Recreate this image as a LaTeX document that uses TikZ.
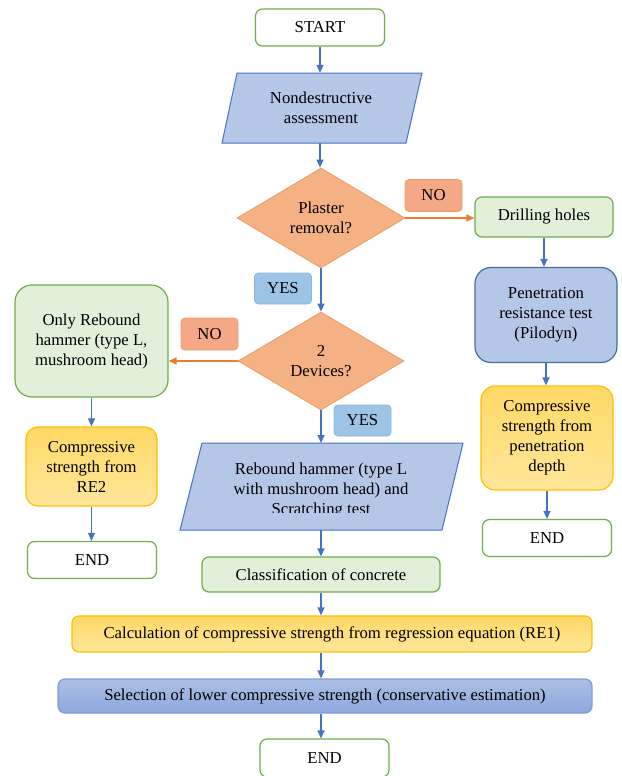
\documentclass[tikz,border=0pt]{standalone}
\usepackage{fontspec}
\setmainfont{Liberation Serif}
\usetikzlibrary{shapes.geometric,arrows.meta}
\definecolor{gborder}{HTML}{70AD47}
\definecolor{gfill}{HTML}{E2F0D9}
\definecolor{bfill}{HTML}{B4C7E7}
\definecolor{bborder}{HTML}{4472C4}
\definecolor{pborder}{HTML}{41719C}
\definecolor{ofill}{HTML}{F4B183}
\definecolor{oborder}{HTML}{F09A66}
\definecolor{oarrow}{HTML}{ED7D31}
\definecolor{yfillA}{HTML}{FFD966}
\definecolor{yfillB}{HTML}{FFE699}
\definecolor{yborder}{HTML}{FFC000}
\definecolor{yesfill}{HTML}{9DC3E6}
\definecolor{yesborder}{HTML}{8AB4E0}
\definecolor{nofill}{HTML}{F4A886}
\definecolor{selA}{HTML}{ABBFE6}
\definecolor{selB}{HTML}{8EA8DD}
\definecolor{selborder}{HTML}{7F9CD8}
\definecolor{arrowblue}{HTML}{4472C4}
\begin{document}
\begin{tikzpicture}[x=1pt,y=-1pt,
  font=\fontsize{16.7}{20}\selectfont,
  box/.style={draw, line width=1.2pt, align=center, inner sep=0pt, rounded corners=7pt},
  greenbox/.style={box, draw=gborder, fill=gfill},
  endbox/.style={box, draw=gborder, fill=white, minimum width=129pt, minimum height=37pt},
  yellowbox/.style={box, draw=yborder, top color=yfillA, bottom color=yfillB, rounded corners=14pt},
  tagyes/.style={box, draw=yesborder, fill=yesfill, line width=0.8pt, rounded corners=4pt, minimum width=57pt, minimum height=31pt},
  tagno/.style={box, draw=oborder, fill=nofill, line width=0.8pt, rounded corners=4pt, minimum width=57pt, minimum height=32pt},
  decision/.style={diamond, draw=oborder, fill=ofill, line width=0.8pt, inner sep=0pt, align=center},
  para/.style={draw=bborder, fill=bfill, line width=1pt},
  flow/.style={draw=arrowblue, line width=1.2pt, -{Triangle[length=8pt,width=7pt]}},
  oflow/.style={draw=oarrow, line width=1.2pt, -{Triangle[length=8pt,width=7pt]}}
]
\useasboundingbox (0,0) rectangle (621,776);

% main column
\node[endbox] (start) at (320,27.5) {START};
\path[para] (237,73) -- (422,73) -- (406,143) -- (222,143) -- cycle;
\node[align=center, minimum width=150pt, minimum height=70pt, inner sep=0pt] (nd) at (321,108) {Nondestructive\\assessment};
\node[decision, minimum width=168pt, minimum height=100pt] (d1) at (321,218) {Plaster\\removal?};
\node[tagno] (no1) at (433.5,195.5) {NO};
\node[tagyes] (yes1) at (283,288.5) {YES};
\node[decision, minimum width=166pt, minimum height=98pt] (d2) at (321,361) {2\\Devices?};
\node[tagno] (no2) at (209.5,334) {NO};
\node[tagyes] (yes2) at (362.5,420.5) {YES};
\path[para] (202,443) -- (463,443) -- (442,530) -- (180,530) -- cycle;
\coordinate (rhtop) at (321,443);
\coordinate (rhbot) at (321,530);
\begin{scope}
\clip (170,440) rectangle (470,512);
\node[align=center, inner sep=0pt] (rh) at (321,490.5) {Rebound hammer (type L\\with mushroom head) and\\Scratching test};
\end{scope}
\node[greenbox, minimum width=238pt, minimum height=35pt] (class) at (321,574.5) {Classification of concrete};
\node[box, draw=yborder, top color=yfillA, bottom color=yfillB, minimum width=520pt, minimum height=36pt] (calc) at (332,634) {Calculation of compressive strength from regression equation (RE1)};
\node[box, draw=selborder, top color=selA, bottom color=selB, minimum width=534pt, minimum height=34pt] (sel) at (325,696) {Selection of lower compressive strength (conservative estimation)};
\node[endbox, minimum height=38pt] (end3) at (324.5,758) {END};

% right column
\node[greenbox, minimum width=138pt, minimum height=40pt] (drill) at (544,217) {Drilling holes};
\node[box, draw=pborder, fill=bfill, rounded corners=16pt, minimum width=142pt, minimum height=95pt] (pen) at (546,315) {Penetration\\resistance test\\(Pilodyn)};
\node[yellowbox, minimum width=132pt, minimum height=104pt] (comp) at (547,438) {Compressive\\strength from\\penetration\\depth};
\node[endbox] (end1) at (547,538) {END};

% left column
\node[greenbox, rounded corners=17pt, minimum width=153pt, minimum height=112pt] (only) at (91.5,341) {Only Rebound\\hammer (type L,\\mushroom head)};
\node[yellowbox, rounded corners=12pt, minimum width=131pt, minimum height=79pt] (re2) at (91.5,466.5) {Compressive\\strength from\\RE2};
\node[endbox] (end2) at (92,560) {END};

% connectors
\draw[flow] (start.south) -- (start.south |- nd.north);
\draw[flow] (start.south |- nd.south) -- (start.south |- d1.north);
\draw[oflow] (d1.east) -- (d1.east -| drill.west);
\draw[flow] (d1.south) -- (d2.north);
\draw[flow] (drill.south) -- (drill.south |- pen.north);
\draw[flow] (pen.south) -- (pen.south |- comp.north);
\draw[flow] (comp.south) -- (comp.south |- end1.north);
\draw[oflow] (d2.west) -- (d2.west -| only.east);
\draw[flow] (only.south) -- (only.south |- re2.north);
\draw[flow] (re2.south) -- (re2.south |- end2.north);
\draw[flow] (d2.south) -- (d2.south |- rhtop);
\draw[flow] (d2.south |- rhbot) -- (d2.south |- class.north);
\draw[flow] (class.south) -- (class.south |- calc.north);
\draw[flow] (class.south |- calc.south) -- (class.south |- sel.north);
\draw[flow] (class.south |- sel.south) -- (class.south |- end3.north);
\end{tikzpicture}
\end{document}
